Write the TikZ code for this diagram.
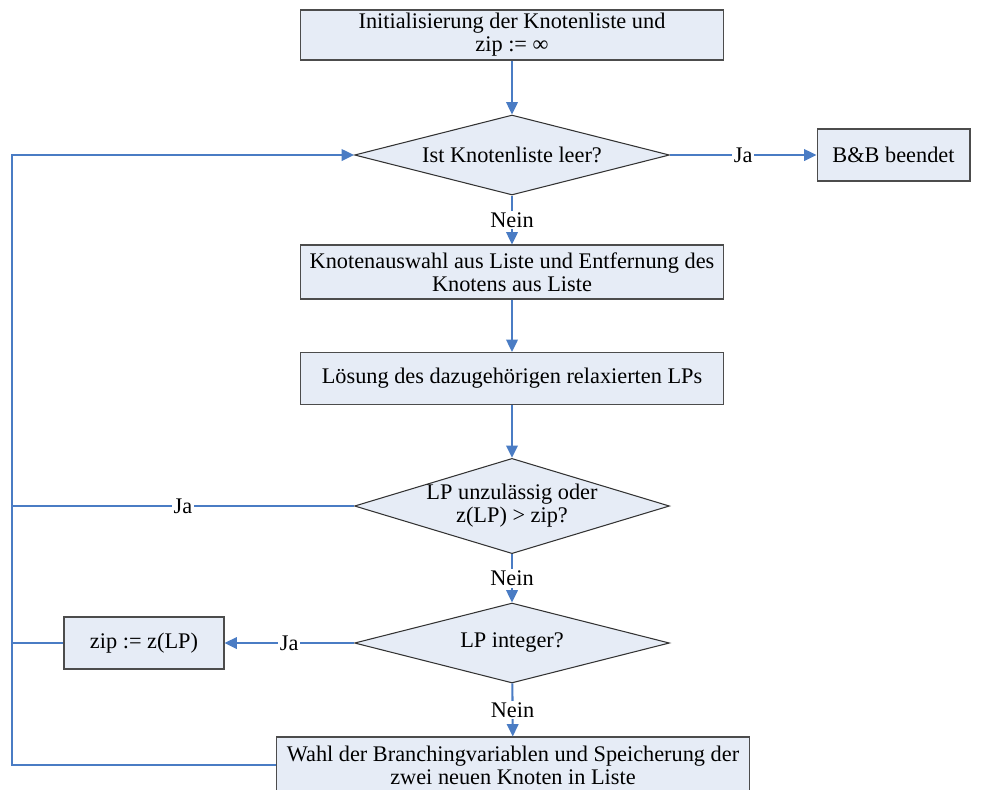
\documentclass[tikz,border=0pt]{standalone}
\usepackage{fontspec}
\setmainfont{Liberation Serif}
\usepackage{xcolor}
\usetikzlibrary{arrows.meta,positioning,shapes.geometric}
\definecolor{boxfill}{HTML}{E6ECF6}
\definecolor{flowblue}{HTML}{4A7CC4}

\begin{document}
\begin{tikzpicture}[x=0.02cm, y=-0.02cm,
        font=\fontsize{12.7}{13.2}\selectfont,
        box/.style={draw=black!70, fill=boxfill, line width=0.6pt, align=center,
            inner sep=0pt, minimum width=8.46cm, minimum height=1.04cm},
        dia/.style={diamond, draw=black!80, fill=boxfill, line width=0.6pt, align=center,
            inner sep=0pt, aspect=4, minimum width=6.3cm, minimum height=1.6cm},
        flow/.style={draw=flowblue, line width=1.2pt},
        tip/.style={-{Triangle[length=7pt,width=6.5pt]}},
        lbl/.style={fill=white, inner sep=1pt}]
        \useasboundingbox (0,0) rectangle (990,789);
        \clip (0,0) rectangle (990,789);

        \node[box, minimum height=1cm] (init) at (512,35)
            {Initialisierung der Knotenliste und\\zip := ∞};
        \node[dia] (leer) at (512,155) {Ist Knotenliste leer?};
        \node[box, minimum width=3.06cm] (ende) at (893.5,155) {B\&B beendet};
        \node[box, minimum height=1.08cm] (wahl) at (512,272)
            {Knotenauswahl aus Liste und Entfernung des\\Knotens aus Liste};
        \node[box] (relax) at (512,378.5) {Lösung des dazugehörigen relaxierten LPs};
        \node[dia, aspect=3.3, minimum height=1.88cm] (zul) at (512,506)
            {LP unzulässig oder\\z(LP) > zip?};
        \node[dia] (int) at (512,643) {LP integer?};
        \node[box, minimum width=3.2cm] (zip) at (144,643) {zip := z(LP)};
        \node[box, minimum width=9.48cm, minimum height=1.12cm] (branch) at (513,765)
            {Wahl der Branchingvariablen und Speicherung der\\zwei neuen Knoten in Liste};

        \coordinate (back) at (12,765);

        % main path
        \draw[flow, tip] (init) -- (leer);
        \draw[flow, tip] (leer) -- node[lbl] {Ja} (ende);
        \draw[flow, tip] (leer) -- node[lbl] {Nein} (wahl);
        \draw[flow, tip] (wahl) -- (relax);
        \draw[flow, tip] (relax) -- (zul);
        \draw[flow, tip] (zul) -- node[lbl] {Nein} (int);
        \draw[flow, tip] (int) -- node[lbl] {Ja} (zip);
        \draw[flow, tip] (int) -- node[lbl] {Nein} (branch);

        % way back to the list
        \draw[flow, tip] (branch.west) -- (back) |- (leer.west);
        \draw[flow] (zul.west) -- node[lbl] {Ja} (back |- zul.west);
        \draw[flow] (zip.west) -- (back |- zip.west);
\end{tikzpicture}
\end{document}
